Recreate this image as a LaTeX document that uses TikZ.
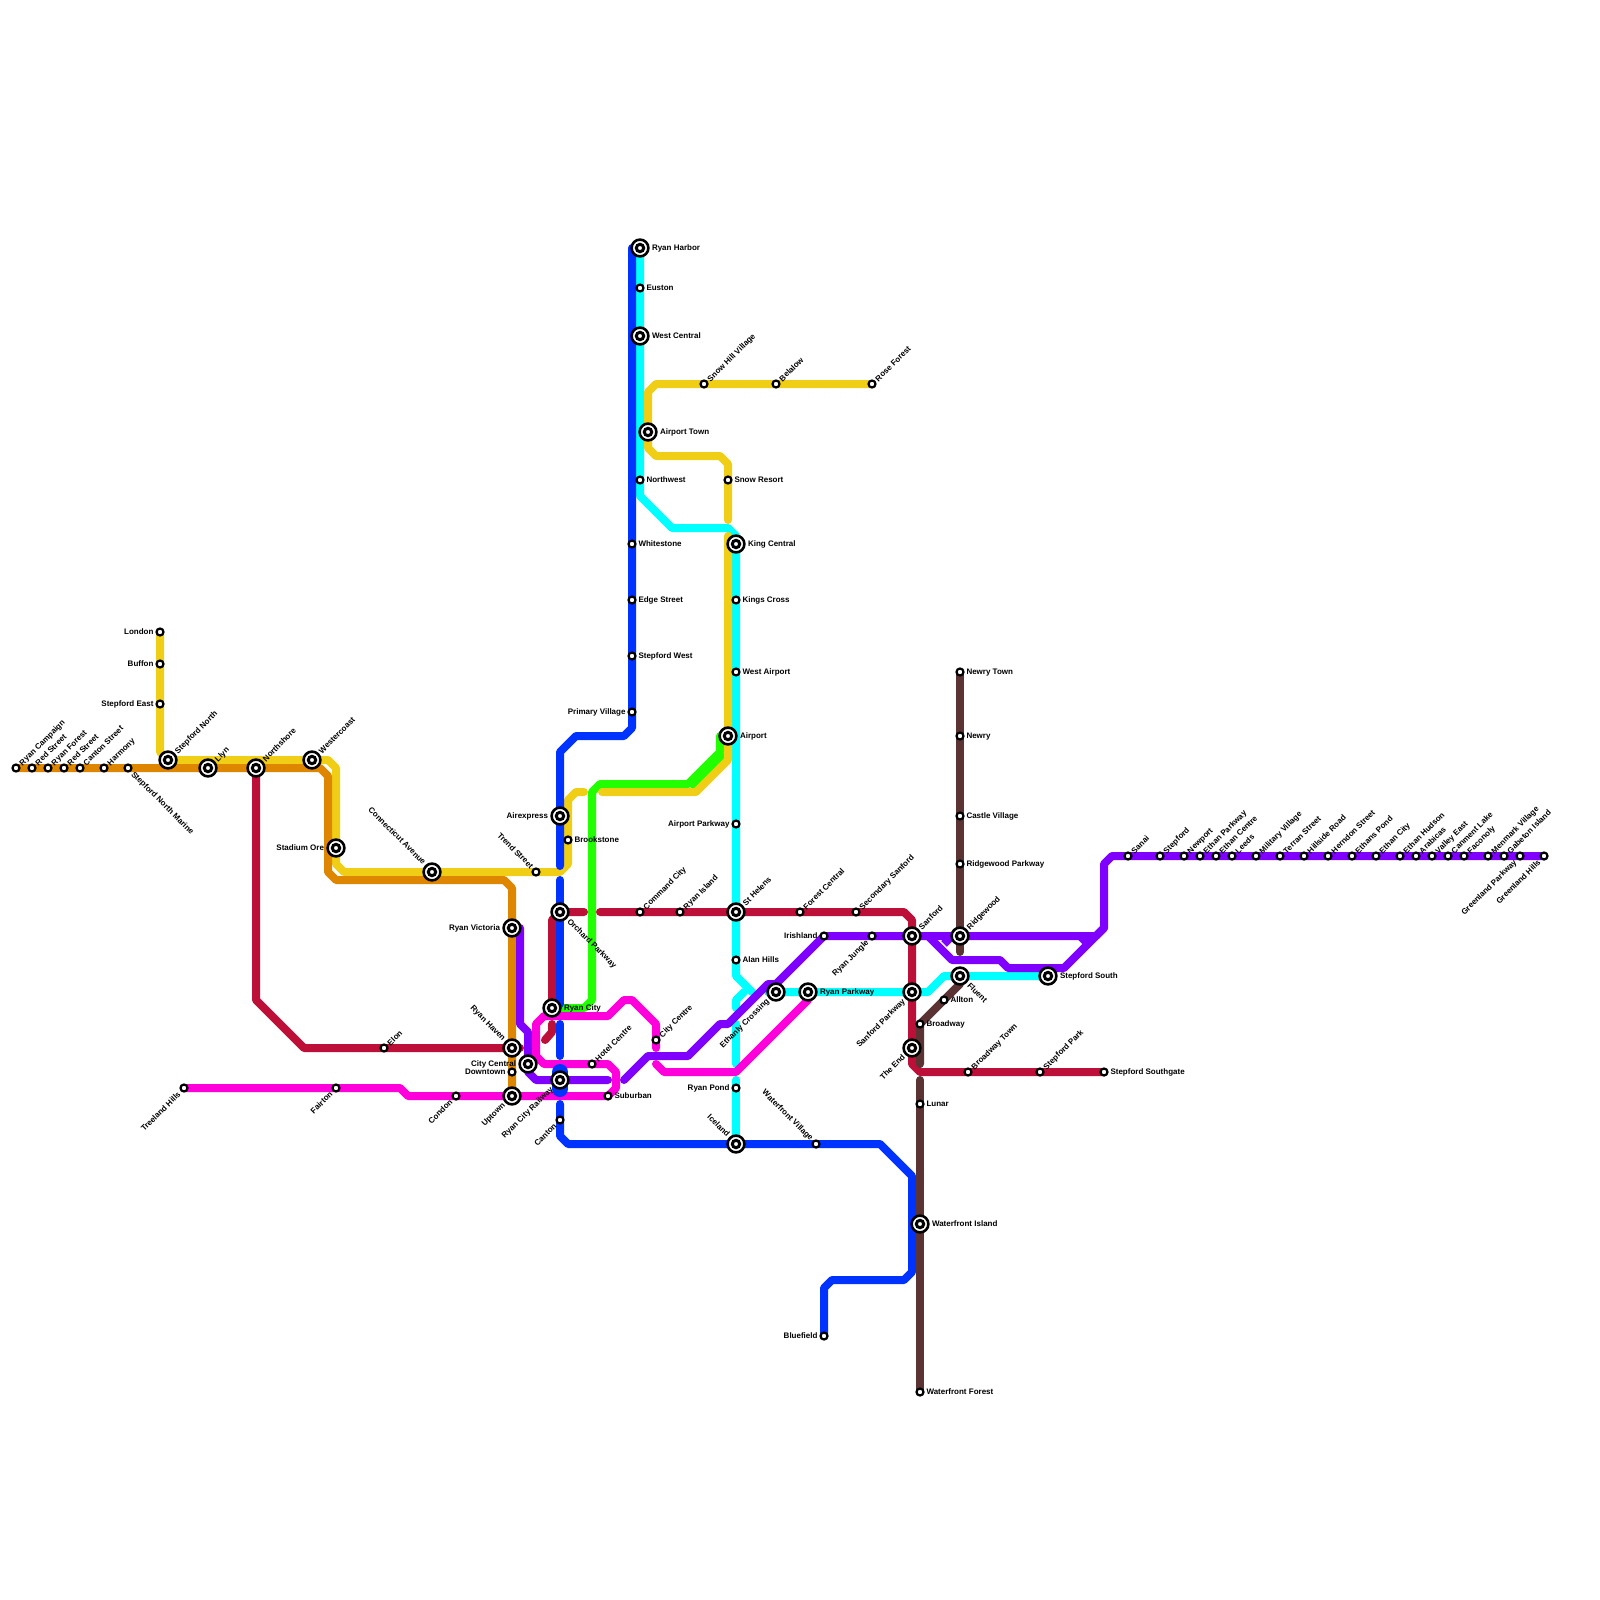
\documentclass[tikz,border=0pt]{standalone}
\usepackage{fontspec}
\setmainfont{Liberation Sans}
\usetikzlibrary{backgrounds}
\definecolor{cOrange}{HTML}{DF8600}
\definecolor{cYellow}{HTML}{F0CE15}
\definecolor{cCrimson}{HTML}{BD1038}
\definecolor{cMagenta}{HTML}{FF00DD}
\definecolor{cBlue}{HTML}{0033FF}
\definecolor{cCyan}{HTML}{00FFFF}
\definecolor{cPurple}{HTML}{8000FF}
\definecolor{cGreen}{HTML}{22FF00}
\definecolor{cBrown}{HTML}{5B3333}
\tikzset{
  minorst/.style={circle,draw=black,fill=white,line width=2.2pt,minimum size=7pt,inner sep=0pt,outer sep=0pt},
  majorst/.style={circle,draw=black,fill=white,line width=2.6pt,minimum size=16.8pt,inner sep=0pt,outer sep=0pt,
    path picture={\draw[black,line width=3pt] (path picture bounding box.center) circle (3.7pt);}},
  lab/.style={font=\bfseries\fontsize{8}{8}\selectfont,inner sep=0pt,outer sep=0pt,text=black,text height=5.8pt,text depth=0pt},
  labE/.style={lab,anchor=west},
  labW/.style={lab,anchor=east},
  labNE/.style={lab,anchor=west,rotate=45},
  labSE/.style={lab,anchor=west,rotate=-45},
  labSW/.style={lab,anchor=east,rotate=45},
  labNW/.style={lab,anchor=east,rotate=-45},
  metro/.style={line width=8pt,line join=round,line cap=round}
}
\newcommand\offmE{(6.5,0)}\newcommand\offmW{(-6.5,0)}
\newcommand\offmNE{(4.6,-4)}\newcommand\offmSE{(5,5)}
\newcommand\offmSW{(-5,5)}\newcommand\offmNW{(-4,-5)}
\newcommand\offME{(12,0)}\newcommand\offMW{(-12,0)}
\newcommand\offMNE{(8,-8)}\newcommand\offMSE{(9,8)}
\newcommand\offMSW{(-8.5,8)}\newcommand\offMNW{(-7.5,-9)}
% id, x, y, direction, text
\newcommand\ms[5]{\node[minorst] (#1) at (#2,#3) {};
  \node[lab#4] (#1-t) at ([shift={\csname offm#4\endcsname}]#1.center) {#5};}
\newcommand\mj[5]{\node[majorst] (#1) at (#2,#3) {};
  \node[lab#4] (#1-t) at ([shift={\csname offM#4\endcsname}]#1.center) {#5};}
\begin{document}
\begin{tikzpicture}[x=1pt,y=-1pt]
\useasboundingbox (0,0) rectangle (1600,1600);
% stations (west part)
\ms{rcampaign}{16}{768}{NE}{Ryan Campaign}
\ms{redst}{32}{768}{NE}{Red Street}
\ms{rforest}{48}{768}{NE}{Ryan Forest}
\ms{rodst}{64}{768}{NE}{Red Street}
\ms{canton}{80}{768}{NE}{Canton Street}
\ms{harmony}{104}{768}{NE}{Harmony}
\ms{snmarine}{128}{768}{SE}{Stepford North Marine}
\ms{london}{160}{632}{W}{London}
\ms{buffon}{160}{664}{W}{Buffon}
\ms{steast}{160}{704}{W}{Stepford East}
\mj{stnorth}{168}{760}{NE}{Stepford North}
\mj{llyn}{208}{768}{NE}{Llyn}
\mj{northshore}{256}{768}{NE}{Northshore}
\mj{westercoast}{312}{760}{NE}{Westercoast}
\mj{stadium}{336}{848}{W}{Stadium Ore}
\mj{connecticut}{432}{872}{NW}{Connecticut Avenue}
\ms{trend}{536}{872}{NW}{Trend Street}
\mj{airexpress}{560}{816}{W}{Airexpress}
\ms{brookstone}{568}{840}{E}{Brookstone}
\ms{elon}{384}{1048}{NE}{Elon}
\ms{treeland}{184}{1088}{SW}{Treeland Hills}
\ms{fairton}{336}{1088}{SW}{Fairton}
\ms{condon}{456}{1096}{SW}{Condon}
\mj{rvictoria}{512}{928}{W}{Ryan Victoria}
\mj{rhaven}{512}{1048}{NW}{Ryan Haven}
\mj{citycentral}{528}{1064}{W}{City Central}
\ms{downtown}{512}{1072}{W}{Downtown}
\mj{uptown}{512}{1096}{SW}{Uptown}
\mj{railway}{560}{1080}{SW}{Ryan City Railway}
\ms{cantonb}{560}{1120}{SW}{Canton}
\mj{rcity}{552}{1008}{E}{Ryan City}
\mj{orchard}{560}{912}{SE}{Orchard Parkway}
\ms{hotel}{592}{1064}{NE}{Hotel Centre}
\ms{suburban}{608}{1096}{E}{Suburban}
\ms{citycentre}{656}{1040}{NE}{City Centre}
% north-south centre
\mj{rharbor}{640}{248}{E}{Ryan Harbor}
\ms{euston}{640}{288}{E}{Euston}
\mj{westcentral}{640}{336}{E}{West Central}
\mj{airporttown}{648}{432}{E}{Airport Town}
\ms{northwest}{640}{480}{E}{Northwest}
\ms{whitestone}{632}{544}{E}{Whitestone}
\ms{edge}{632}{600}{E}{Edge Street}
\ms{stwest}{632}{656}{E}{Stepford West}
\ms{primary}{632}{712}{W}{Primary Village}
\ms{snowhill}{704}{384}{NE}{Snow Hill Village}
\ms{belalow}{776}{384}{NE}{Belalow}
\ms{roseforest}{872}{384}{NE}{Rose Forest}
\ms{snowresort}{728}{480}{E}{Snow Resort}
\mj{kingcentral}{736}{544}{E}{King Central}
\ms{kingscross}{736}{600}{E}{Kings Cross}
\ms{westairport}{736}{672}{E}{West Airport}
\mj{airport}{728}{736}{E}{Airport}
\ms{airportpk}{736}{824}{W}{Airport Parkway}
\ms{command}{640}{912}{NE}{Command City}
\ms{rylsland}{680}{912}{NE}{Ryan Island}
\mj{sthelens}{736}{912}{NE}{St Helens}
\ms{alanhills}{736}{960}{E}{Alan Hills}
\mj{ethanly}{776}{992}{SW}{Ethanly Crossing}
\mj{rparkway}{808}{992}{E}{Ryan Parkway}
\ms{rpond}{736}{1088}{W}{Ryan Pond}
\mj{iceland}{736}{1144}{NW}{Iceland}
\ms{wvillage}{816}{1144}{NW}{Waterfront Village}
\ms{bluefield}{824}{1336}{W}{Bluefield}
\ms{forestc}{800}{912}{NE}{Forest Central}
\ms{secondary}{856}{912}{NE}{Secondary Sanford}
\ms{irishland}{824}{936}{W}{Irishland}
\ms{rjungle}{872}{936}{SW}{Ryan Jungle}
\mj{sanford}{912}{936}{NE}{Sanford}
\mj{sanfordpk}{912}{992}{SW}{Sanford Parkway}
\mj{theend}{912}{1048}{SW}{The End}
\ms{broadway}{920}{1024}{E}{Broadway}
\ms{lunar}{920}{1104}{E}{Lunar}
\mj{wisland}{920}{1224}{E}{Waterfront Island}
\ms{wforest}{920}{1392}{E}{Waterfront Forest}
\ms{allton}{944}{1000}{E}{Allton}
\ms{newrytown}{960}{672}{E}{Newry Town}
\ms{newry}{960}{736}{E}{Newry}
\ms{castle}{960}{816}{E}{Castle Village}
\ms{ridgepk}{960}{864}{E}{Ridgewood Parkway}
\mj{ridgewood}{960}{936}{NE}{Ridgewood}
\mj{fluent}{960}{976}{SE}{Fluent}
\mj{stsouth}{1048}{976}{E}{Stepford South}
\ms{bwtown}{968}{1072}{NE}{Broadway Town}
\ms{stpark}{1040}{1072}{NE}{Stepford Park}
\ms{southgate}{1104}{1072}{E}{Stepford Southgate}
% east line
\ms{sanai}{1128}{856}{NE}{Sanai}
\ms{stepford}{1160}{856}{NE}{Stepford}
\ms{newport}{1184}{856}{NE}{Newport}
\ms{epark}{1200}{856}{NE}{Ethan Parkway}
\ms{ecentre}{1216}{856}{NE}{Ethan Centre}
\ms{leeds}{1232}{856}{NE}{Leeds}
\ms{military}{1256}{856}{NE}{Military Village}
\ms{terran}{1280}{856}{NE}{Terran Street}
\ms{hillside}{1304}{856}{NE}{Hillside Road}
\ms{herndon}{1328}{856}{NE}{Herndon Street}
\ms{epond}{1352}{856}{NE}{Ethans Pond}
\ms{ecity}{1376}{856}{NE}{Ethan City}
\ms{ehudson}{1400}{856}{NE}{Ethan Hudson}
\ms{arabicas}{1416}{856}{NE}{Arabicas}
\ms{valley}{1432}{856}{NE}{Valley East}
\ms{canment}{1448}{856}{NE}{Canment Lake}
\ms{faconoly}{1464}{856}{NE}{Faconoly}
\ms{menmark}{1488}{856}{NE}{Menmark Village}
\ms{gabeton}{1504}{856}{NE}{Gabeton Island}
\ms{gparkway}{1520}{856}{SW}{Greenland Parkway}
\ms{ghills}{1544}{856}{SW}{Greenland Hills}
\begin{scope}[on background layer]
% cyan
\draw[metro,cCyan] (rharbor.center) -- (640,496) -- (672,528) -- (728,528) -- (736,536) -- (alanhills.center) -- (736,976) -- (752,992);
\draw[metro,cCyan] (736,1008) -- (736,1000) -- (744,992);
\draw[metro,cCyan] (736,1024) -- (736,1064);
\draw[metro,cCyan] (736,1080) -- (iceland.center);
\draw[metro,cCyan] (768,992) -- (928,992) -- (944,976) -- (stsouth.center);
% green
\draw[metro,cGreen] (rcity.center) -- (584,1008) -- (592,1000) -- (592,792) -- (600,784) -- (688,784) -- (720,752) -- (720,736) -- (airport.center);
\draw[metro,cGreen] (694,786) -- (723,757);
% yellow
\draw[metro,cYellow] (london.center) -- (160,752) -- (stnorth.center) -- (328,760) -- (336,768) -- (336,864) -- (344,872) -- (560,872) -- (568,864) -- (568,800) -- (576,792) -- (584,792);
\draw[metro,cYellow] (602,792) -- (696,792) -- (728,760) -- (728,536);
\draw[metro,cYellow] (728,520) -- (728,464) -- (720,456) -- (656,456) -- (648,448) -- (648,392) -- (656,384) -- (roseforest.center);
% orange
\draw[metro,cOrange] (rcampaign.center) -- (320,768) -- (328,776) -- (328,872) -- (336,880) -- (504,880) -- (512,888) -- (uptown.center);
% crimson
\draw[metro,cCrimson] (northshore.center) -- (256,1000) -- (304,1048) -- (520,1048);
\draw[metro,cCrimson] (rcity.center) -- (552,920) -- (orchard.center) -- (584,912);
\draw[metro,cCrimson] (552,1024) -- (552,1032) -- (545,1040);
\draw[metro,cCrimson] (600,912) -- (904,912) -- (912,920) -- (912,1064) -- (920,1072) -- (southgate.center);
% blue
\draw[metro,cBlue] (rharbor.center) -- (632,248) -- (632,728) -- (624,736) -- (576,736) -- (560,752) -- (560,866);
\draw[metro,cBlue] (560,880) -- (560,1004);
\draw[metro,cBlue] (560,1024) -- (560,1056);
\draw[metro,cBlue] (560,1104) -- (560,1136) -- (568,1144) -- (880,1144) -- (912,1176) -- (912,1272) -- (904,1280) -- (832,1280) -- (824,1288) -- (bluefield.center);
% purple
\draw[metro,cPurple] (rvictoria.center) -- (520,928) -- (520,1024) -- (528,1032) -- (528,1072) -- (536,1080) -- (608,1080);
\draw[metro,cPurple] (624,1080) -- (648,1056) -- (688,1056) -- (720,1024) -- (728,1024) -- (768,984) -- (776,984) -- (irishland.center) -- (ridgewood.center) -- (1096,936) -- (1104,928) -- (1104,864) -- (1112,856) -- (ghills.center);
\draw[metro,cPurple] (928,936) -- (952,960) -- (1000,960) -- (1008,968) -- (1064,968) -- (1104,928);
\draw[metro,cPurple,line cap=butt] (944,944) -- (952,936);
\draw[metro,cPurple,line cap=butt] (1080,936) -- (1088,944);
% magenta
\draw[metro,cMagenta] (treeland.center) -- (400,1088) -- (408,1096) -- (suburban.center) -- (616,1088) -- (616,1072) -- (608,1064) -- (544,1064) -- (536,1056) -- (536,1024) -- (544,1016) -- (608,1016) -- (624,1000) -- (632,1000) -- (656,1024) -- (656,1048);
\draw[metro,cMagenta] (656,1064) -- (664,1072) -- (736,1072) -- (808,1000);
% blue widening at Ryan City Railway
\draw[metro,cBlue,line width=16pt] (560,1072) -- (560,1089);
% brown
\draw[metro,cBrown] (wforest.center) -- (920,1080);
\draw[metro,cBrown] (920,1064) -- (broadway.center) -- (960,984);
\draw[metro,cBrown] (960,952) -- (newrytown.center);
\end{scope}
\end{tikzpicture}
\end{document}
